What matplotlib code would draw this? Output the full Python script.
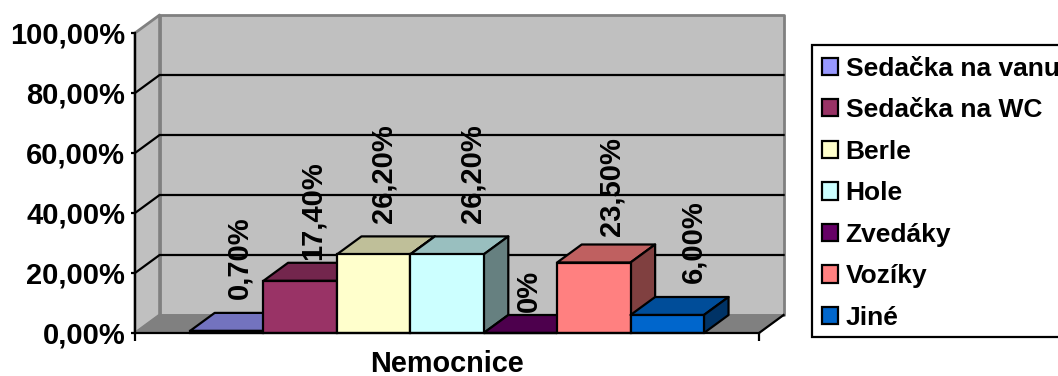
import matplotlib
matplotlib.use("Agg")
import matplotlib.pyplot as plt
from matplotlib.patches import Patch, Polygon, Rectangle

plt.rcParams["font.family"] = ["Liberation Sans", "DejaVu Sans"]
plt.rcParams["font.weight"] = "bold"

# data
nazvy = ["Sedačka na vanu", "Sedačka na WC", "Berle", "Hole", "Zvedáky", "Vozíky", "Jiné"]
hodnoty = [0.7, 17.4, 26.2, 26.2, 0.0, 23.5, 6.0]
popisky = ["0,70%", "17,40%", "26,20%", "26,20%", "0%", "23,50%", "6,00%"]
y_ticks = [0, 20, 40, 60, 80, 100]
y_labels = ["0,00%", "20,00%", "40,00%", "60,00%", "80,00%", "100,00%"]
kategorie = "Nemocnice"

# styles
barvy = ["#9999FF", "#993366", "#FFFFCC", "#CCFFFF", "#660066", "#FF8080", "#0066CC"]
barvy_top = ["#7373BF", "#73264D", "#BFBF99", "#99BFBF", "#4D004D", "#BF6060", "#004D99"]
barvy_side = ["#4D4D80", "#4D1A33", "#808066", "#668080", "#330033", "#804040", "#003366"]
# label offsets from the bar top, in pixels (x, y)
posun = [(0, 14), (0, 3), (-2, 13), (13, 13), (-4, 3), (5, 8), (14, 14)]

W, H = 1058, 376
LW = 1.6
hloubka_x = 0.335
hloubka_y = 6.0
x_max = 8.5
okraj = 0.75

fig = plt.figure(figsize=(W / 100, H / 100), dpi=100)
ax = fig.add_axes([135 / W, (H - 333) / H, 624 / W, 300 / H])
ax.set_xlim(0, x_max)
ax.set_ylim(0, 100)
ax.patch.set_visible(False)


def plocha(body, barva, hrana, z, lw=LW):
    ax.add_patch(Polygon(body, closed=True, facecolor=barva, edgecolor=hrana, lw=lw,
                         clip_on=False, zorder=z, joinstyle="round"))


# walls and floor
plocha([(hloubka_x, hloubka_y), (x_max + hloubka_x, hloubka_y),
        (x_max + hloubka_x, 100 + hloubka_y), (hloubka_x, 100 + hloubka_y)], "#C0C0C0", "#808080", 1, 2)
plocha([(0, 0), (hloubka_x, hloubka_y), (hloubka_x, 100 + hloubka_y), (0, 100)], "#C0C0C0", "#808080", 1, 2)
plocha([(0, 0), (hloubka_x, hloubka_y), (x_max + hloubka_x, hloubka_y), (x_max, 0)], "#808080", "#808080", 1.5, 1)

# gridlines on the walls
for t in y_ticks[1:-1]:
    ax.plot([0, hloubka_x, x_max + hloubka_x], [t, t + hloubka_y, t + hloubka_y],
            color="black", lw=LW, clip_on=False, zorder=2, solid_joinstyle="miter")
ax.plot([x_max, x_max + hloubka_x], [0, hloubka_y], color="black", lw=LW, clip_on=False, zorder=2)

# bars, left to right, each one over the previous
for i, v in enumerate(hodnoty):
    x0 = okraj + i
    x1 = x0 + 1
    z = 3 + i
    ax.bar(x0, v, width=1, align="edge", color=barvy[i], edgecolor="black", lw=LW,
           clip_on=False, zorder=z + 0.2)
    plocha([(x0, v), (x0 + hloubka_x, v + hloubka_y), (x1 + hloubka_x, v + hloubka_y), (x1, v)],
           barvy_top[i], "black", z)
    plocha([(x1, 0), (x1 + hloubka_x, hloubka_y), (x1 + hloubka_x, v + hloubka_y), (x1, v)],
           barvy_side[i], "black", z)

# rotated value labels sit in front of everything
for i, v in enumerate(hodnoty):
    ax.annotate(popisky[i], xy=(okraj + i + 0.5 + hloubka_x / 2, v + hloubka_y),
                xytext=(posun[i][0] * 0.72, posun[i][1] * 0.72), textcoords="offset points",
                rotation=90, ha="center", va="bottom", fontsize=21,
                annotation_clip=False, zorder=20)

ax.set_yticks(y_ticks)
ax.set_yticklabels(y_labels, fontsize=21)
ax.set_xticks([0, x_max])
ax.set_xticklabels(["", ""])
ax.tick_params(axis="y", length=3, width=LW, pad=4)
ax.tick_params(axis="x", length=6, width=LW)
ax.set_xlabel(kategorie, fontsize=20.8, fontweight="bold", labelpad=3)
for s in ["top", "right"]:
    ax.spines[s].set_visible(False)
for s in ["left", "bottom"]:
    ax.spines[s].set_linewidth(LW)
    ax.spines[s].set_zorder(15)

# legend box is drawn apart so its height can follow the reference
fig.add_artist(Rectangle((812 / W, 1 - 337 / H), 260 / W, 292 / H, transform=fig.transFigure,
                         facecolor="white", edgecolor="black", lw=LW, zorder=1))
handles = [Patch(facecolor=b, edgecolor="black", lw=LW, label=n) for b, n in zip(barvy, nazvy)]
leg = fig.legend(handles=handles, loc="upper left", bbox_to_anchor=(811 / W, 1 - 46 / H),
                 borderaxespad=0, fontsize=19.0, frameon=False,
                 handlelength=0.63, handleheight=0.63, handletextpad=0.28, labelspacing=0.665,
                 borderpad=0.4)
leg.set_zorder(2)

fig.savefig("out.png", dpi=100)
